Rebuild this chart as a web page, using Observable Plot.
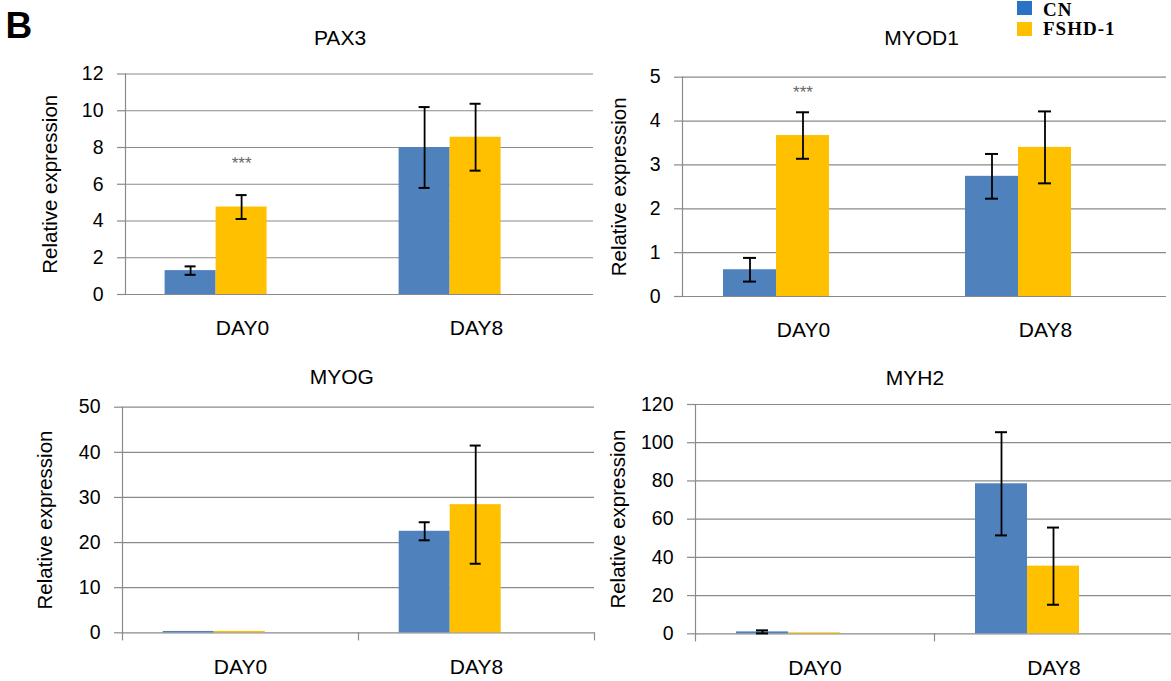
<!DOCTYPE html>
<html>
<head>
<meta charset="utf-8">
<script src="https://cdn.jsdelivr.net/npm/d3@7"></script>
<script src="https://cdn.jsdelivr.net/npm/@observablehq/plot@0.6"></script>
<style>
  html, body { margin: 0; padding: 0; background: #fff; }
  #root { position: relative; width: 1171px; height: 681px; overflow: hidden; background: #fff;
          font-family: Arial, "Liberation Sans", sans-serif; }
  .abs { position: absolute; line-height: 1; white-space: nowrap; }
  .title { font-size: 21px; width: 200px; text-align: center; color: #000; }
  .leg { font-family: "Liberation Serif", "Times New Roman", serif; font-weight: bold; font-size: 19px; letter-spacing: 1px; }
  svg { position: absolute; overflow: visible; }
</style>
</head>
<body>
<div id="root"></div>
<script>
// ---------------- data ----------------
const genes = ["PAX3", "MYOD1", "MYOG", "MYH2"];
const days = ["DAY0", "DAY8"];
const series = ["CN", "FSHD-1"];
// mean values per gene: [DAY0, DAY8]
const cnMean   = [[1.3, 8.0], [0.61, 2.74], [0.3, 22.5], [1.0, 78.5]];
const cnErr    = [[0.23, 2.2], [0.27, 0.51], [0, 2.0], [0.8, 27.0]];
const fshdMean = [[4.76, 8.56], [3.67, 3.40], [0.3, 28.4], [0.5, 35.4]];
const fshdErr  = [[0.65, 1.82], [0.53, 0.82], [0, 13.1], [0, 20.2]];
const yMax  = [12, 5, 50, 120];
const yStep = [2, 1, 10, 20];
const sigGene = ["PAX3", "MYOD1"];
const sigDay = ["DAY0", "DAY0"];
const sigSeries = ["FSHD-1", "FSHD-1"];
const sigY = [7.13, 4.64];
const sigText = ["***", "***"];
const yLabel = "Relative expression";

// ---------------- layout ----------------
const layout = [
  {left: 0,   top: 0,   width: 600, height: 340, mt: 73.5, mb: 46,   ml: 124.4, mr: 6, lo: 83, xticks: false, tcx: 340,   tbase: 45},
  {left: 590, top: 0,   width: 581, height: 340, mt: 76.7, mb: 44,   ml: 92,    mr: 5, lo: 71, xticks: false, tcx: 921.6, tbase: 45},
  {left: 0,   top: 340, width: 600, height: 341, mt: 66.7, mb: 48.7, ml: 121.3, mr: 5, lo: 85, xticks: true,  tcx: 341.8, tbase: 383.3},
  {left: 590, top: 340, width: 583, height: 341, mt: 64,   mb: 47.7, ml: 105,   mr: 0, lo: 85, xticks: true,  tcx: 915,   tbase: 385}
];
const colors = ["#4F81BD", "#FFC000"];
const gridColor = "#8a8a8a";

const root = document.getElementById("root");

function addDiv(cls, text, left, top, extra) {
  const d = document.createElement("div");
  d.className = "abs " + cls;
  d.textContent = text;
  d.style.left = left + "px";
  d.style.top = top + "px";
  if (extra) Object.assign(d.style, extra);
  root.appendChild(d);
  return d;
}

genes.forEach((gene, i) => {
  const L = layout[i];
  const rows = [];
  days.forEach((day, j) => {
    rows.push({day, series: "CN", v: cnMean[i][j], e: cnErr[i][j]});
    rows.push({day, series: "FSHD-1", v: fshdMean[i][j], e: fshdErr[i][j]});
  });
  const errs = rows.filter(d => d.e > 0);
  const sig = sigGene.map((g, k) => ({gene: g, day: sigDay[k], series: sigSeries[k], y: sigY[k], text: sigText[k]}))
                     .filter(d => d.gene === gene);
  const plotH = L.height - L.mt - L.mb;
  const ticks = d3.range(0, yMax[i] + yStep[i] / 2, yStep[i]);

  const marks = [
    Plot.gridY({ticks, stroke: gridColor, strokeOpacity: 1, strokeWidth: 1.2}),
    Plot.axisY({ticks, tickFormat: d3.format("d"), tickSize: 8, tickPadding: 14, stroke: gridColor,
                strokeOpacity: 1, strokeWidth: 1.2, fontSize: 19.5, label: null}),
    Plot.axisY({ticks: [], tickSize: 0, label: yLabel, labelAnchor: "center", labelArrow: "none", labelOffset: L.lo, fontSize: 20.5}),
    Plot.frame({anchor: "left", facetAnchor: "left", stroke: gridColor, strokeWidth: 1.2}),
    Plot.barY(rows, {fx: "day", x: "series", y: "v", fill: "series"}),
    Plot.ruleX(errs, {fx: "day", x: "series", y1: d => d.v - d.e, y2: d => d.v + d.e, stroke: "#000", strokeWidth: 1.8}),
    Plot.tickY(errs, {fx: "day", x: "series", y: d => d.v + d.e, stroke: "#000", strokeWidth: 2, insetLeft: 20, insetRight: 20}),
    Plot.tickY(errs, {fx: "day", x: "series", y: d => d.v - d.e, stroke: "#000", strokeWidth: 2, insetLeft: 20, insetRight: 20}),
    Plot.text(sig, {fx: "day", x: "series", y: "y", text: "text", fill: "#666", fontSize: 17}),
    Plot.axisFx({anchor: "bottom", tickSize: 0, tickPadding: 26, fontSize: 21, label: null})
  ];
  if (L.xticks) {
    marks.push(Plot.frame({anchor: "left", stroke: gridColor, strokeWidth: 1.2, insetTop: plotH, insetBottom: -7}));
    marks.push(Plot.frame({anchor: "right", facetAnchor: "right", stroke: gridColor, strokeWidth: 1.2, insetTop: plotH, insetBottom: -7}));
  }

  const svg = Plot.plot({
    width: L.width,
    height: L.height,
    marginTop: L.mt,
    marginBottom: L.mb,
    marginLeft: L.ml,
    marginRight: L.mr,
    style: {fontFamily: "Arial, 'Liberation Sans', sans-serif", fontSize: "19px", color: "#000", background: "transparent", overflow: "visible"},
    fx: {domain: days, padding: 0, label: null},
    x: {domain: series, paddingInner: 0, paddingOuter: 1.273, align: 0.3036, axis: null},
    y: {domain: [0, yMax[i]], label: null},
    color: {domain: series, range: colors},
    marks
  });
  svg.style.left = L.left + "px";
  svg.style.top = L.top + "px";
  root.appendChild(svg);

  addDiv("title", gene, L.tcx - 100, L.tbase - 17.8);
});

// panel letter
addDiv("", "B", 5.5, 7, {fontSize: "37px", fontWeight: "bold", fontFamily: "Arial, 'Liberation Sans', sans-serif"});

// legend
const legendColors = ["#2a72c6", "#FFC000"];
series.forEach((s, k) => {
  const sw = document.createElement("div");
  sw.className = "abs";
  Object.assign(sw.style, {left: "1017px", top: (k === 0 ? 1 : 22) + "px", width: "15px", height: "14px", background: legendColors[k]});
  root.appendChild(sw);
  addDiv("leg", s, 1043, (k === 0 ? 17 : 36) - 16.6);
});
</script>
</body>
</html>
